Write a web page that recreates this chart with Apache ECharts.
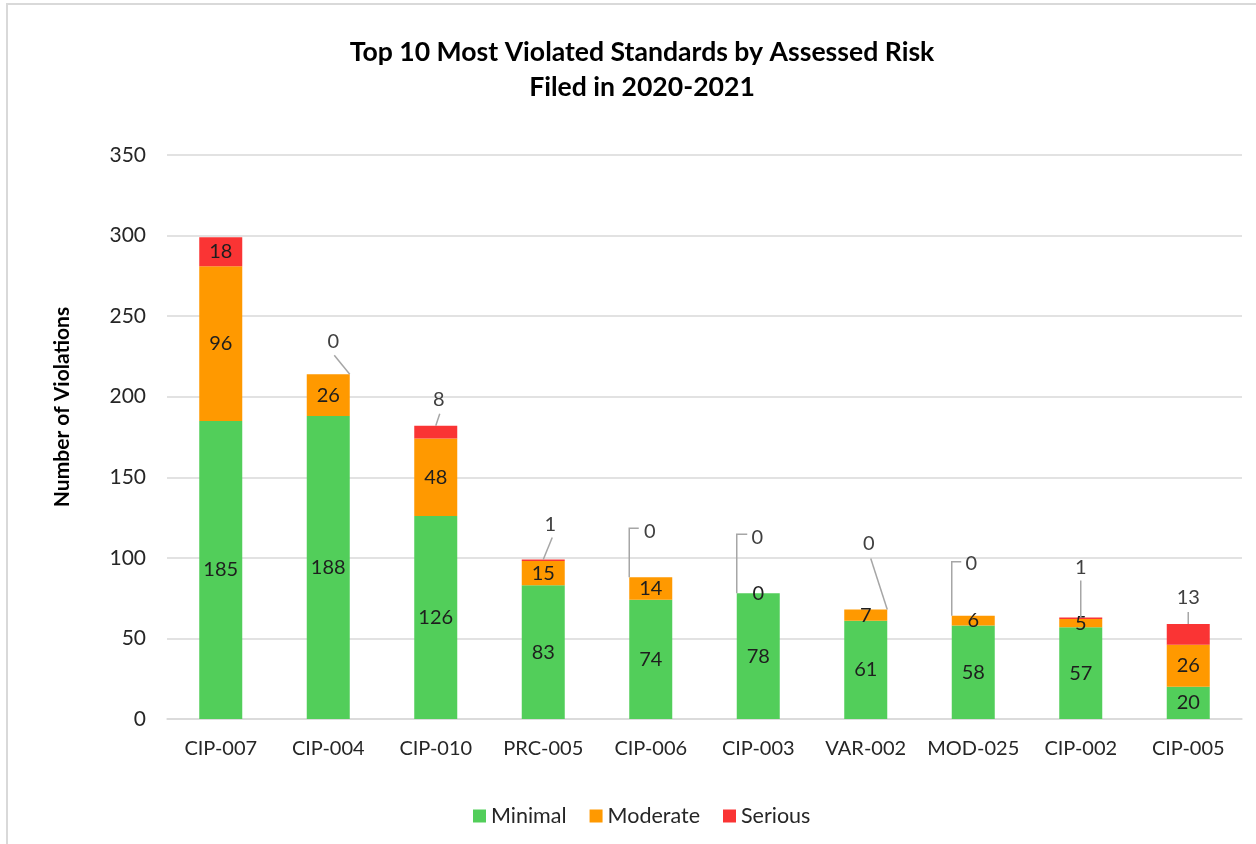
<!DOCTYPE html>
<html><head><meta charset="utf-8">
<script src="https://cdn.jsdelivr.net/npm/echarts@6/dist/echarts.min.js"></script>
<style>
html,body{margin:0;padding:0;background:#fff;overflow:hidden;}
#frame{position:absolute;left:6px;top:3px;width:1400px;height:1000px;border:2px solid #d9d9d9;box-sizing:border-box;}
#chart{position:absolute;left:0;top:0;width:1256px;height:844px;}
</style></head>
<body>
<div id="frame"></div>
<div id="chart"></div>
<script>
var categories = ['CIP-007','CIP-004','CIP-010','PRC-005','CIP-006','CIP-003','VAR-002','MOD-025','CIP-002','CIP-005'];
var minimal  = [185, 188, 126, 83, 74, 78, 61, 58, 57, 20];
var moderate = [96, 26, 48, 15, 14, 0, 7, 6, 5, 26];
var serious  = [18, 0, 8, 1, 0, 0, 0, 0, 1, 13];
var yTicks = [0, 50, 100, 150, 200, 250, 300, 350];

// callout label layout (offsets in px relative to top-centre of each stacked bar)
var callouts = [
  null,
  {label:[5,-33],  from:[6,-19],   to:'R'},
  {label:[3,-26],  from:[4,-12],   to:'C'},
  {label:[7,-35],  from:[9,-22],   to:'C'},
  {label:[-1,-46], from:[-12,-49], to:'L', elbow:true},
  {label:[-1,-56], from:[-11,-59], to:'L', elbow:true},
  {label:[3,-66],  from:[5,-51],   to:'R'},
  {label:[-2,-52], from:[-12,-54], to:'L', elbow:true},
  {label:[0,-50],  from:[0,-37],   to:'C'},
  {label:[0,-26],  from:[0,-12],   to:'C'}
];

var FONT = 'Lato';
var chart = echarts.init(document.getElementById('chart'));
var barW = 0.4;

var insideLabel = {show:true, position:'inside', color:'#1e1e1e', fontSize:20, fontFamily:FONT};

chart.setOption({
  animation:false,
  backgroundColor:'transparent',
  title:{
    text:'Top 10 Most Violated Standards by Assessed Risk\nFiled in 2020-2021',
    left:637, top:30, textAlign:'center',
    textStyle:{fontFamily:FONT, fontWeight:'bold', fontSize:26.6, lineHeight:35, color:'#000'}
  },
  legend:{
    bottom:12, left:468, itemGap:23, itemWidth:13, itemHeight:13,
    icon:'rect',
    textStyle:{fontFamily:FONT, fontSize:21.5, color:'#262626'},
    data:['Minimal','Moderate','Serious']
  },
  grid:{left:167, right:14, top:155, bottom:125, containLabel:false},
  xAxis:{
    type:'category', data:categories,
    axisLine:{show:true, lineStyle:{color:'#d9d9d9', width:1.5}},
    axisTick:{show:false},
    axisLabel:{color:'#262626', fontSize:20, fontFamily:FONT, margin:20, interval:0}
  },
  yAxis:{
    type:'value', min:0, max:350, interval:50,
    name:'Number of Violations', nameLocation:'middle', nameGap:94,
    nameTextStyle:{fontFamily:FONT, fontWeight:'bold', fontSize:21, color:'#000', padding:[0,0,0,60]},
    axisLine:{show:false}, axisTick:{show:false},
    axisLabel:{color:'#262626', fontSize:21, fontFamily:FONT, margin:21,
      formatter:function(v){ return yTicks.indexOf(v) >= 0 ? String(v) : ''; }},
    splitLine:{lineStyle:{color:'#d9d9d9', width:1.5}}
  },
  series:[
    {name:'Minimal', type:'bar', stack:'risk', barWidth:(barW*100)+'%', data:minimal,
     itemStyle:{color:'#52CE5A'}, label:insideLabel},
    {name:'Moderate', type:'bar', stack:'risk', data:moderate,
     itemStyle:{color:'#FF9900'}, label:insideLabel},
    {name:'Serious', type:'bar', stack:'risk',
     data:serious.map(function(v,i){ return {value:v, label:{show: !callouts[i]}}; }),
     itemStyle:{color:'#FA3434'}, label:insideLabel},
    {name:'callouts', type:'custom', silent:true, z:5,
     data:categories.map(function(c,i){ return [i, minimal[i]+moderate[i]+serious[i]]; }),
     encode:{x:0, y:1},
     renderItem:function(params, api){
       var i = params.dataIndex;
       var spec = callouts[i];
       if(!spec) return null;
       var p = api.coord([api.value(0), api.value(1)]);
       var hw = api.size([1,0])[0]*barW/2;
       var cx = p[0], ty = p[1];
       var tx = spec.to==='R' ? cx+hw : (spec.to==='L' ? cx-hw : cx);
       var fx = cx+spec.from[0], fy = ty+spec.from[1];
       var pts = spec.elbow ? [[fx,fy],[tx,fy],[tx,ty]] : [[fx,fy],[tx,ty]];
       return {type:'group', children:[
         {type:'polyline', shape:{points:pts}, style:{stroke:'#a6a6a6', lineWidth:1.5, fill:null}},
         {type:'text', x:cx+spec.label[0], y:ty+spec.label[1],
          style:{text:String(serious[i]), align:'center', verticalAlign:'middle',
                 fill:'#404040', font:'20px '+FONT}}
       ]};
     }}
  ]
});
</script>
</body></html>
